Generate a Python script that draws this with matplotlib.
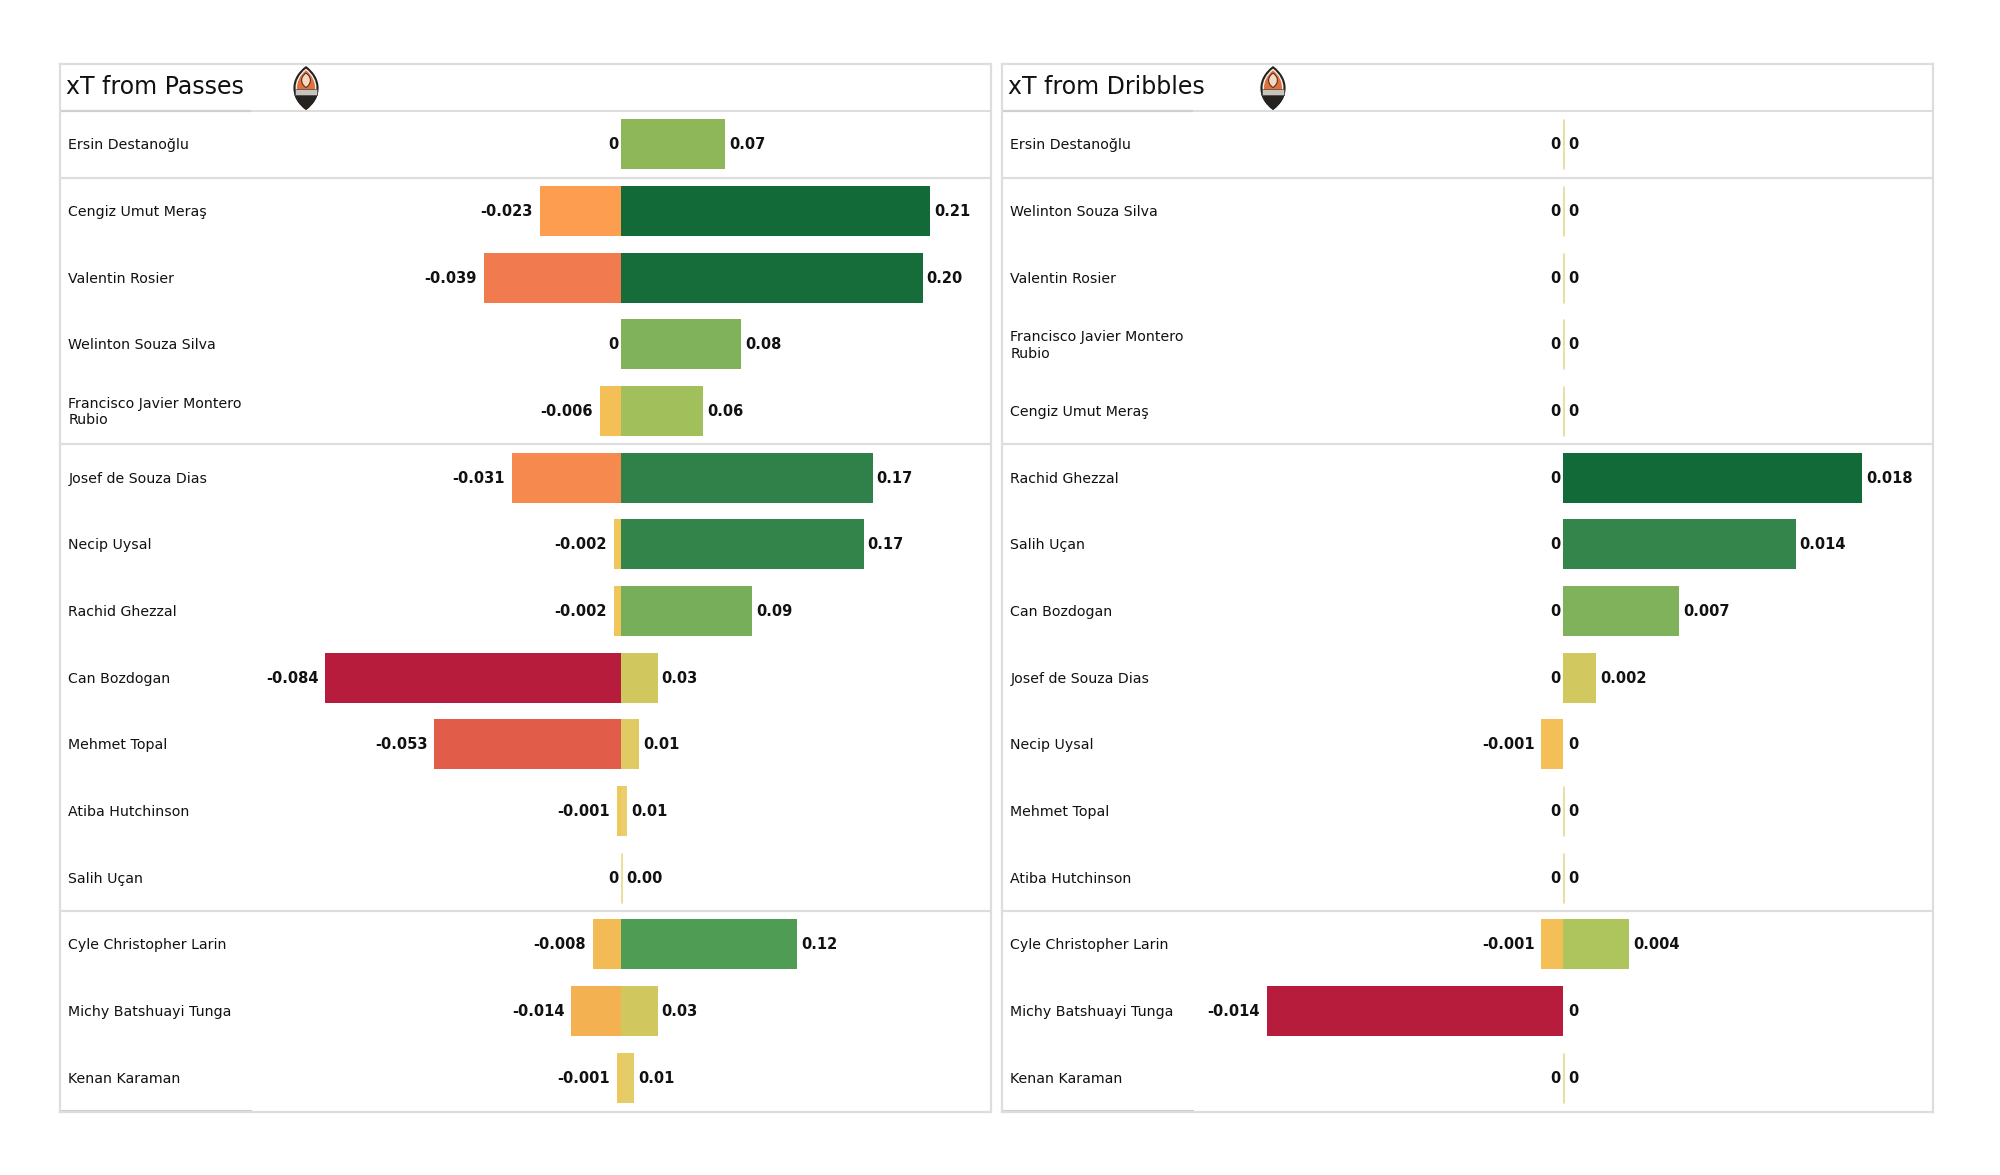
import matplotlib
matplotlib.use("Agg")
import matplotlib.pyplot as plt
from matplotlib.colors import LinearSegmentedColormap
from matplotlib.path import Path
from matplotlib.patches import PathPatch, Rectangle

W, H = 2000, 1175

# data, top to bottom in panel order
passes_players = [
    "Ersin Destanoğlu", "Cengiz Umut Meraş", "Valentin Rosier", "Welinton Souza Silva",
    "Francisco Javier Montero\nRubio", "Josef de Souza Dias", "Necip Uysal", "Rachid Ghezzal",
    "Can Bozdogan", "Mehmet Topal", "Atiba Hutchinson", "Salih Uçan",
    "Cyle Christopher Larin", "Michy Batshuayi Tunga", "Kenan Karaman",
]
passes_neg = [0, -0.023, -0.039, 0, -0.006, -0.031, -0.002, -0.002, -0.084, -0.053, -0.001, 0, -0.008, -0.014, -0.001]
passes_pos = [0.071, 0.21, 0.205, 0.082, 0.056, 0.171, 0.165, 0.089, 0.025, 0.0126, 0.0045, 0, 0.12, 0.025, 0.0091]
passes_pos_labels = ["0.07", "0.21", "0.20", "0.08", "0.06", "0.17", "0.17", "0.09", "0.03", "0.01", "0.01", "0.00", "0.12", "0.03", "0.01"]

dribbles_players = [
    "Ersin Destanoğlu", "Welinton Souza Silva", "Valentin Rosier",
    "Francisco Javier Montero\nRubio", "Cengiz Umut Meraş", "Rachid Ghezzal", "Salih Uçan",
    "Can Bozdogan", "Josef de Souza Dias", "Necip Uysal", "Mehmet Topal", "Atiba Hutchinson",
    "Cyle Christopher Larin", "Michy Batshuayi Tunga", "Kenan Karaman",
]
dribbles_neg = [0, 0, 0, 0, 0, 0, 0, 0, 0, -0.001, 0, 0, -0.001, -0.014, 0]
dribbles_pos = [0, 0, 0, 0, 0, 0.018, 0.014, 0.007, 0.002, 0, 0, 0, 0.004, 0, 0]
dribbles_pos_labels = ["0", "0", "0", "0", "0", "0.018", "0.014", "0.007", "0.002", "0", "0", "0", "0.004", "0", "0"]

separators = [0.5, 4.5, 11.5]

pos_cmap = LinearSegmentedColormap.from_list("pos", [
    (0, "#f0d070"), (0.06, "#e0ca63"), (0.12, "#cfc75f"), (0.22, "#aec45c"), (0.30, "#98bb5a"),
    (0.39, "#7fb25a"), (0.57, "#4f9d54"), (0.80, "#32834a"), (1, "#126a38")])
neg_cmap = LinearSegmentedColormap.from_list("neg", [
    (0, "#eeca5e"), (0.07, "#f3bf56"), (0.17, "#f4b052"), (0.27, "#fc9e50"), (0.37, "#f6894e"),
    (0.46, "#f27a4f"), (0.63, "#e25c4a"), (1, "#b81c3c")])

TOP, BOTTOM = 64, 1112
PANEL_W = 931
ROW_TOP, ROW_BOTTOM = -1.207, 14.513
GRID = "#dddddd"
TEXT = "#111111"


def vesica(half_w, y0, y1):
    h = y1 - y0
    verts = [(0, y1), (half_w, y1 - 0.28 * h), (half_w, y0 + 0.28 * h), (0, y0),
             (-half_w, y0 + 0.28 * h), (-half_w, y1 - 0.28 * h), (0, y1)]
    codes = [Path.MOVETO] + [Path.CURVE4] * 6
    return Path(verts, codes)


def draw_crest(cx, cy):
    # club crest, about 26x42 px
    ax = fig.add_axes([(cx - 14) / W, 1 - (cy + 22) / H, 28 / W, 44 / H])
    ax.set_xlim(-1, 1)
    ax.set_ylim(-1, 1)
    ax.axis("off")
    ax.add_patch(PathPatch(vesica(1.2, -1, 1), fc="#26221f", ec="none"))
    inner = PathPatch(vesica(1.0, -0.88, 0.88), fc="#f4f1ec", ec="none")
    ax.add_patch(inner)
    orange = Rectangle((-1, -0.1), 2, 1, fc="#e2703a", ec="none")
    ax.add_patch(orange)
    orange.set_clip_path(PathPatch(vesica(0.86, -0.8, 0.8), transform=ax.transData))
    ax.add_patch(PathPatch(vesica(0.42, 0.02, 0.68), fc="#f6d9c2", ec="#5a3020", lw=0.8))
    dark = Rectangle((-1, -1), 2, 0.72, fc="#26221f", ec="none")
    ax.add_patch(dark)
    dark.set_clip_path(PathPatch(vesica(1.2, -1, 1), transform=ax.transData))
    band = Rectangle((-0.8, -0.3), 1.6, 0.24, fc="#c9c4bb", ec="#444444", lw=0.5)
    ax.add_patch(band)


def draw_panel(left, title, crest_x, players, neg, pos, pos_labels, neg_scale, pos_scale, zero):
    frame = fig.add_axes([left / W, 1 - BOTTOM / H, PANEL_W / W, (BOTTOM - TOP) / H])
    frame.set_xlim(0, PANEL_W)
    frame.set_ylim(ROW_BOTTOM, ROW_TOP)
    frame.set_xticks([])
    frame.set_yticks([])
    for s in frame.spines.values():
        s.set_color(GRID)
        s.set_linewidth(1.6)

    frame.axhline(-0.5, color=GRID, lw=1.4)
    frame.plot([0, 190], [-0.5, -0.5], color="#cfcfcf", lw=1.6)
    frame.plot([0, 190], [ROW_BOTTOM, ROW_BOTTOM], color="#cfcfcf", lw=3)
    for sep in separators:
        frame.axhline(sep, color=GRID, lw=1.6)

    frame.text(6, -0.86, title, fontsize=17, va="center", color=TEXT)
    for i, name in enumerate(players):
        frame.text(8.5, i + 0.015, name, fontsize=10.2, va="center", color=TEXT, linespacing=1.2)

    # negative and positive sides have their own scale, meeting at zero
    zero_px = zero - left
    ax_neg = fig.add_axes([left / W, 1 - BOTTOM / H, zero_px / W, (BOTTOM - TOP) / H])
    ax_pos = fig.add_axes([zero / W, 1 - BOTTOM / H, (PANEL_W - zero_px) / W, (BOTTOM - TOP) / H])
    ax_neg.set_xlim(-zero_px / neg_scale, 0)
    ax_pos.set_xlim(0, (PANEL_W - zero_px) / pos_scale)
    for ax in (ax_neg, ax_pos):
        ax.set_ylim(ROW_BOTTOM, ROW_TOP)
        ax.axis("off")

    nmax = max(abs(v) for v in neg)
    pmax = max(pos)
    for i in range(len(players)):
        n, p = neg[i], pos[i]
        ax_neg.barh(i, n, height=0.75, color=neg_cmap(abs(n) / nmax), lw=0)
        ax_pos.barh(i, p, height=0.75, color=pos_cmap(p / pmax), lw=0)
        if n == 0 and p == 0:
            ax_pos.vlines(0, i - 0.375, i + 0.375, color="#e8dfa0", lw=2.2)
        ax_neg.annotate("0" if n == 0 else f"{n:.3f}", (n, i), xytext=(-2 if n == 0 else -7, 1),
                        textcoords="offset pixels", ha="right", va="center_baseline",
                        fontsize=10.5, fontweight="bold", color=TEXT, annotation_clip=False)
        ax_pos.annotate(pos_labels[i], (p, i), xytext=(6 if p == 0 else 4, 1),
                        textcoords="offset pixels", ha="left", va="center_baseline",
                        fontsize=10.5, fontweight="bold", color=TEXT, annotation_clip=False)

    draw_crest(crest_x, 88)


fig = plt.figure(figsize=(W / 100, H / 100), dpi=100, facecolor="white")

draw_panel(60, "xT from Passes", 306, passes_players, passes_neg, passes_pos, passes_pos_labels, 3517, 1473, 620.7)
draw_panel(1002, "xT from Dribbles", 1273, dribbles_players, dribbles_neg, dribbles_pos, dribbles_pos_labels, 21100, 16650, 1562.5)

fig.savefig("out.png", dpi=100)
